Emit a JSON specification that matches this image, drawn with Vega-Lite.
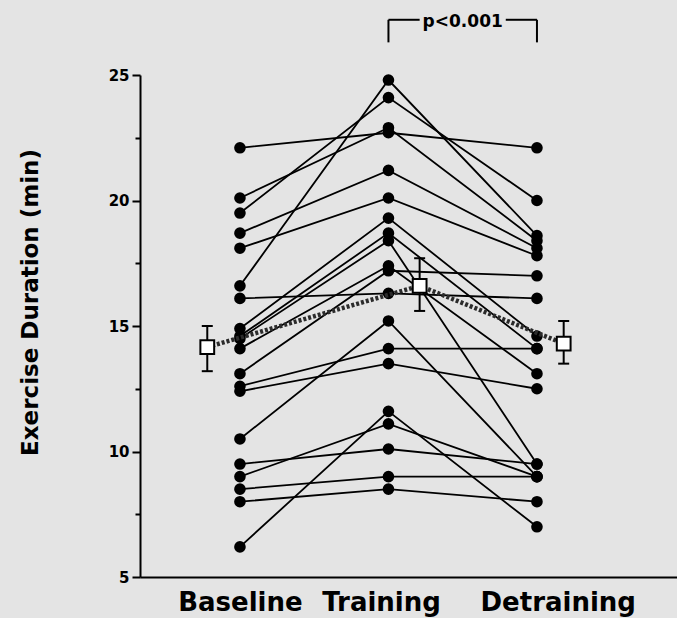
{
  "$schema": "https://vega.github.io/schema/vega-lite/v6.json",
  "width": 537,
  "height": 502,
  "autosize": {"type": "none"},
  "padding": {"left": 140, "top": 75, "right": 0, "bottom": 41},
  "background": "#e4e4e4",
  "config": {
    "view": {"stroke": null},
    "font": "DejaVu Sans",
    "axis": {
      "grid": false,
      "domainColor": "black",
      "tickColor": "black",
      "labelColor": "black",
      "titleColor": "black",
      "labelFont": "DejaVu Sans",
      "titleFont": "DejaVu Sans"
    }
  },
  "datasets": {
    "subjects": [
      {"s": "A", "x": 1, "min": 22.1}, {"s": "A", "x": 2, "min": 22.7}, {"s": "A", "x": 3, "min": 22.1},
      {"s": "B", "x": 1, "min": 20.1}, {"s": "B", "x": 2, "min": 22.9}, {"s": "B", "x": 3, "min": 18.4},
      {"s": "C", "x": 1, "min": 19.5}, {"s": "C", "x": 2, "min": 24.1}, {"s": "C", "x": 3, "min": 20.0},
      {"s": "D", "x": 1, "min": 16.6}, {"s": "D", "x": 2, "min": 24.8}, {"s": "D", "x": 3, "min": 18.6},
      {"s": "E", "x": 1, "min": 18.7}, {"s": "E", "x": 2, "min": 21.2}, {"s": "E", "x": 3, "min": 18.1},
      {"s": "F", "x": 1, "min": 18.1}, {"s": "F", "x": 2, "min": 20.1}, {"s": "F", "x": 3, "min": 17.8},
      {"s": "G", "x": 1, "min": 16.1}, {"s": "G", "x": 2, "min": 16.3}, {"s": "G", "x": 3, "min": 16.1},
      {"s": "H", "x": 1, "min": 14.9}, {"s": "H", "x": 2, "min": 19.3}, {"s": "H", "x": 3, "min": 14.6},
      {"s": "I", "x": 1, "min": 14.6}, {"s": "I", "x": 2, "min": 18.7}, {"s": "I", "x": 3, "min": 14.1},
      {"s": "J", "x": 1, "min": 14.5}, {"s": "J", "x": 2, "min": 18.4}, {"s": "J", "x": 3, "min": 9.5},
      {"s": "K", "x": 1, "min": 14.1}, {"s": "K", "x": 2, "min": 17.4}, {"s": "K", "x": 3, "min": 13.1},
      {"s": "L", "x": 1, "min": 13.1}, {"s": "L", "x": 2, "min": 17.2}, {"s": "L", "x": 3, "min": 17.0},
      {"s": "M", "x": 1, "min": 12.6}, {"s": "M", "x": 2, "min": 14.1}, {"s": "M", "x": 3, "min": 14.1},
      {"s": "N", "x": 1, "min": 12.4}, {"s": "N", "x": 2, "min": 13.5}, {"s": "N", "x": 3, "min": 12.5},
      {"s": "O", "x": 1, "min": 10.5}, {"s": "O", "x": 2, "min": 15.2}, {"s": "O", "x": 3, "min": 9.0},
      {"s": "P", "x": 1, "min": 9.5}, {"s": "P", "x": 2, "min": 10.1}, {"s": "P", "x": 3, "min": 9.5},
      {"s": "Q", "x": 1, "min": 9.0}, {"s": "Q", "x": 2, "min": 11.1}, {"s": "Q", "x": 3, "min": 9.0},
      {"s": "R", "x": 1, "min": 8.5}, {"s": "R", "x": 2, "min": 9.0}, {"s": "R", "x": 3, "min": 9.0},
      {"s": "S", "x": 1, "min": 8.0}, {"s": "S", "x": 2, "min": 8.5}, {"s": "S", "x": 3, "min": 8.0},
      {"s": "T", "x": 1, "min": 6.2}, {"s": "T", "x": 2, "min": 11.6}, {"s": "T", "x": 3, "min": 7.0}
    ],
    "means": [
      {"x": 0.78, "min": 14.16, "lo": 13.2, "hi": 15.0},
      {"x": 2.21, "min": 16.6, "lo": 15.6, "hi": 17.7},
      {"x": 3.18, "min": 14.3, "lo": 13.5, "hi": 15.2}
    ],
    "bracket": [
      {"x": 2.0, "x2": 2.21, "min": 27.2, "min2": 27.2},
      {"x": 2.79, "x2": 3.0, "min": 27.2, "min2": 27.2},
      {"x": 2.0, "x2": 2.0, "min": 26.3, "min2": 27.2},
      {"x": 3.0, "x2": 3.0, "min": 26.3, "min2": 27.2}
    ],
    "note": [
      {"x": 2.5, "min": 27.1, "label": "p<0.001"}
    ]
  },
  "encoding": {
    "x": {
      "field": "x", "type": "quantitative",
      "scale": {"domain": [0.327, 3.943], "nice": false, "zero": false},
      "axis": {
        "values": [1, 1.95, 3.14],
        "labelExpr": "datum.value < 1.5 ? 'Baseline' : datum.value < 2.5 ? 'Training' : 'Detraining'",
        "ticks": false,
        "domainWidth": 2,
        "labelFontSize": 26,
        "labelFontWeight": "bold",
        "labelPadding": 12,
        "labelOverlap": false,
        "labelFlush": false,
        "title": null
      }
    }
  },
  "layer": [
    {
      "data": {"name": "subjects"},
      "mark": {"type": "line", "color": "black", "strokeWidth": 1.8},
      "encoding": {
        "y": {
          "field": "min", "type": "quantitative",
          "scale": {"domain": [5, 25], "nice": false, "zero": false},
          "axis": {
            "values": [5, 10, 15, 20, 25],
            "tickSize": 8,
            "tickWidth": 2,
            "domainWidth": 2,
            "labelFontSize": 15,
            "labelFontWeight": "bold",
            "labelPadding": 3,
            "title": "Exercise Duration (min)",
            "titleFontSize": 23,
            "titleFontWeight": "bold",
            "titleX": -110,
            "titleY": 227,
            "titleBaseline": "middle",
            "orient": "left"
          }
        },
        "detail": {"field": "s"},
        "order": {"field": "x"}
      }
    },
    {
      "data": {"name": "subjects"},
      "mark": {"type": "circle", "color": "black", "opacity": 1, "size": 135},
      "encoding": {
        "y": {
          "field": "min", "type": "quantitative",
          "scale": {"domain": [5, 25], "nice": false, "zero": false},
          "axis": {
            "values": [7.5, 12.5, 17.5, 22.5],
            "tickSize": 5,
            "tickWidth": 2,
            "labels": false,
            "domain": false,
            "title": null,
            "orient": "left"
          }
        }
      }
    },
    {
      "data": {"name": "means"},
      "mark": {"type": "line", "color": "#2b2b2b", "strokeWidth": 4.5, "strokeDash": [3, 2]},
      "encoding": {
        "y": {"field": "min", "type": "quantitative", "scale": {"domain": [5, 25], "nice": false, "zero": false}, "axis": null},
        "order": {"field": "x"}
      }
    },
    {
      "data": {"name": "means"},
      "mark": {"type": "rule", "color": "black", "strokeWidth": 2},
      "encoding": {
        "y": {"field": "lo", "type": "quantitative", "scale": {"domain": [5, 25], "nice": false, "zero": false}, "axis": null},
        "y2": {"field": "hi"}
      }
    },
    {
      "data": {"name": "means"},
      "mark": {"type": "tick", "orient": "horizontal", "color": "black", "size": 11, "thickness": 2, "opacity": 1},
      "encoding": {
        "y": {"field": "lo", "type": "quantitative", "scale": {"domain": [5, 25], "nice": false, "zero": false}, "axis": null}
      }
    },
    {
      "data": {"name": "means"},
      "mark": {"type": "tick", "orient": "horizontal", "color": "black", "size": 11, "thickness": 2, "opacity": 1},
      "encoding": {
        "y": {"field": "hi", "type": "quantitative", "scale": {"domain": [5, 25], "nice": false, "zero": false}, "axis": null}
      }
    },
    {
      "data": {"name": "means"},
      "mark": {"type": "point", "shape": "square", "filled": true, "fill": "white", "stroke": "black", "strokeWidth": 2, "size": 190, "opacity": 1},
      "encoding": {
        "y": {"field": "min", "type": "quantitative", "scale": {"domain": [5, 25], "nice": false, "zero": false}, "axis": null}
      }
    },
    {
      "data": {"name": "bracket"},
      "mark": {"type": "rule", "color": "black", "strokeWidth": 2},
      "encoding": {
        "x2": {"field": "x2"},
        "y": {"field": "min", "type": "quantitative", "scale": {"domain": [5, 25], "nice": false, "zero": false}, "axis": null},
        "y2": {"field": "min2"}
      }
    },
    {
      "data": {"name": "note"},
      "mark": {"type": "text", "color": "black", "font": "DejaVu Sans", "fontWeight": "bold", "fontSize": 17, "align": "center", "baseline": "middle"},
      "encoding": {
        "y": {"field": "min", "type": "quantitative", "scale": {"domain": [5, 25], "nice": false, "zero": false}, "axis": null},
        "text": {"field": "label"}
      }
    }
  ],
  "resolve": {"axis": {"y": "independent"}}
}
